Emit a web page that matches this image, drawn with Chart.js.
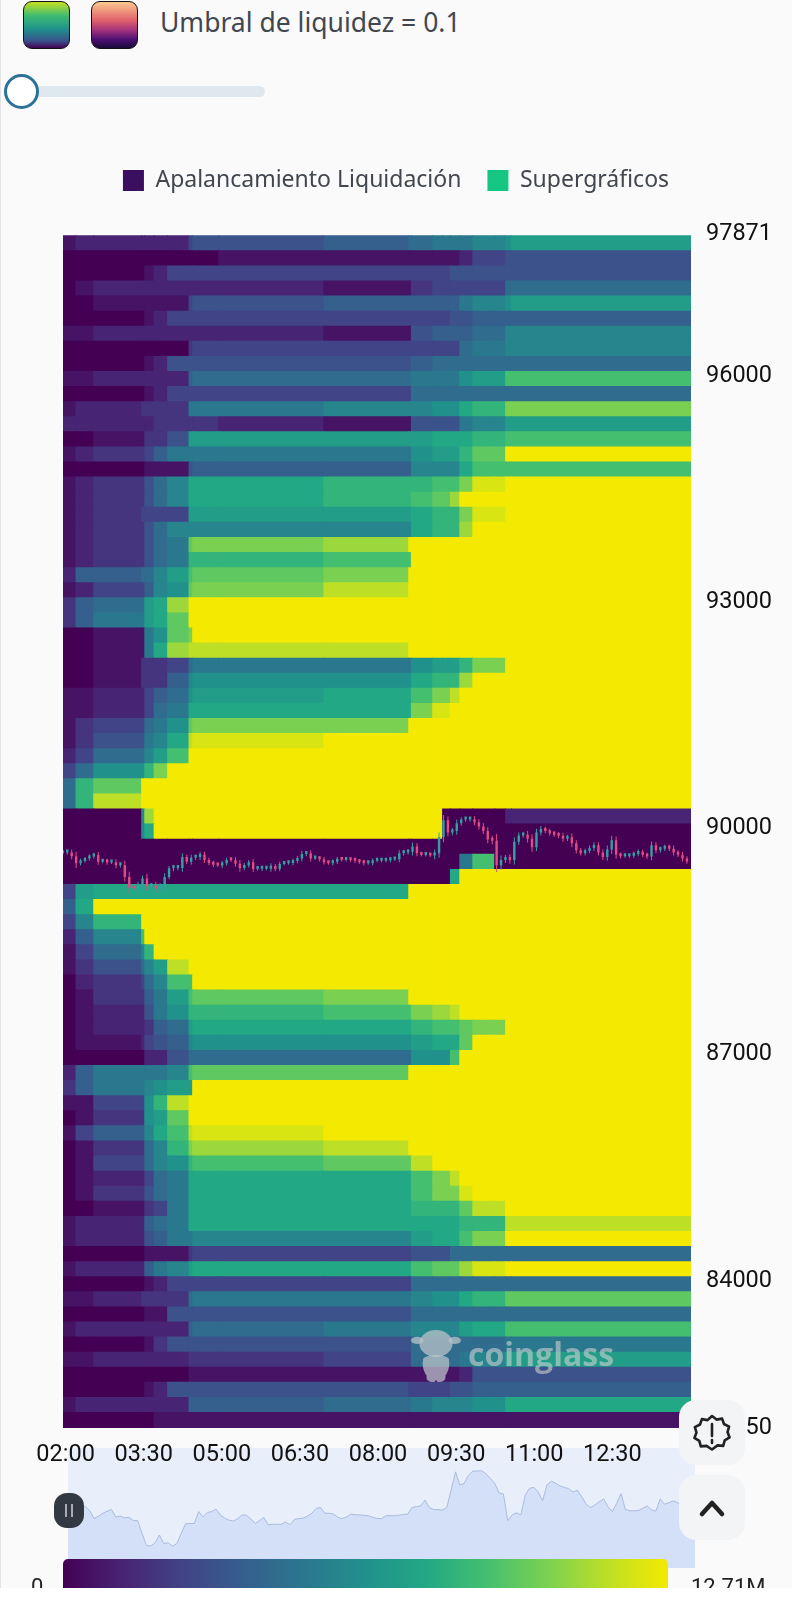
<!DOCTYPE html>
<html lang="es">
<head>
<meta charset="utf-8">
<title>Apalancamiento Liquidación</title>
<script src="https://cdn.jsdelivr.net/npm/chart.js@4"></script>
<style>
    html, body { margin: 0; padding: 0; background: #fff; }
    #page { position: relative; width: 792px; height: 1588px; overflow: hidden; background: #fafafa; border-left: 1px solid #e4e4e4; box-sizing: border-box; }
    #page > * { position: absolute; }
    .swatch { top: 1px; width: 45px; height: 46px; border: 1.5px solid #111; border-radius: 9px; }
    #swatch-viridis { left: 22px; background: linear-gradient(#c6e021, #3dbc74 30%, #1f8f8c 60%, #3b4f8b 85%, #440154); }
    #swatch-magma { left: 90px; background: linear-gradient(#fbc98f, #e0606a 40%, #a0307e 62%, #4a1070 82%, #1a0a3a); }
    #threshold { left: 159px; top: 4px; font: 26.5px "Noto Sans", sans-serif; color: #42474f; white-space: nowrap; }
    #slider-track { left: 19px; top: 86px; width: 245px; height: 11px; border-radius: 6px; background: #dfe8ef; }
    #slider-knob { left: 3px; top: 74px; width: 29px; height: 29px; border: 3px solid #2c7198; border-radius: 50%; background: #fff; }
    #nav-bg { left: 67px; top: 1448px; width: 627px; height: 120px; background: #e9eefb; }
    #nav-chart { left: 67px; top: 1448px; }
    #main-chart { left: -1px; top: 0; }
    #watermark { left: 467px: top: 1332px; left: 467px; top: 1332px; font: bold 32px "Open Sans", sans-serif; color: rgba(200, 206, 208, 0.62); }
    #mascot { left: 410px; top: 1329px; }
    .handle { width: 30px; height: 35px; border-radius: 13px; background: #333943; }
    #handle-left { left: 53px; top: 1493px; }
    #handle-left::before { content: ""; position: absolute; left: 11px; top: 11px; width: 2px; height: 13px; background: #aab; box-shadow: 6px 0 0 #aab; }
    #colorbar { left: 62px; top: 1559px; width: 605px; height: 40px; border-radius: 5px 5px 0 0;
        background: linear-gradient(90deg, #440154, #482475 10%, #414487 20%, #355f8d 30%, #2a788e 40%, #21918c 50%, #22a884 60%, #44bf70 70%, #7ad151 80%, #bddf26 90%, #f4e900); }
    .bar-label { top: 1574px; font: 22px Roboto, sans-serif; color: #222; }
    .fab { left: 678px; width: 66px; height: 65px; border-radius: 17px; background: #f2f4f6; display: flex; align-items: center; justify-content: center; }
</style>
</head>
<body>
<div id="page">
    <div class="swatch" id="swatch-viridis"></div>
    <div class="swatch" id="swatch-magma"></div>
    <div id="threshold">Umbral de liquidez = 0.1</div>
    <div id="slider-track"></div>
    <div id="slider-knob"></div>

    <div id="nav-bg"></div>
    <canvas id="nav-chart" width="627" height="120"></canvas>
    <canvas id="main-chart" width="792" height="1478"></canvas>

    <svg id="mascot" width="50" height="54" viewBox="0 0 48 52">
        <g fill="rgba(190,198,202,0.72)">
            <ellipse cx="24" cy="14" rx="16" ry="13"/>
            <ellipse cx="6" cy="11" rx="6" ry="3.500"/>
            <ellipse cx="42" cy="11" rx="6" ry="3.500"/>
            <path d="M12 28c6-4 18-4 24 0 2 6 0 13-3 17 1 4-2 6-6 6-2 0-2-1-3-2-1 1-1 2-3 2-4 0-7-2-6-6-3-4-5-11-3-17z"/>
        </g>
    </svg>
    <div id="watermark">coinglass</div>

    <div class="handle" id="handle-left"></div>
    <div id="colorbar"></div>
    <div class="bar-label" style="left: 30px">0</div>
    <div class="bar-label" style="left: 690px">12.71M</div>

    <div class="fab" style="top: 1400px">
        <svg width="40" height="40" viewBox="0 0 40 40" fill="none" stroke="#222" stroke-width="2.6" stroke-linejoin="round">
            <path d="M20 3l4.5 3.6 5.6-1 1.9 5.4 5.1 2.6-1.6 5.5 2.1 5.3-4.9 3-1.5 5.5-5.7-.5L20 36.500l-5.500-3.600-5.700.500-1.500-5.500-4.900-3 2.100-5.300-1.600-5.500 5.100-2.600 1.900-5.400 5.600 1z"/>
            <path d="M20 11v12M20 27v3" stroke-linecap="round"/>
        </svg>
    </div>
    <div class="fab" style="top: 1475px">
        <svg width="36" height="36" viewBox="0 0 36 36" fill="none" stroke="#222" stroke-width="4.5" stroke-linecap="round" stroke-linejoin="round">
            <path d="M8 24L18 13l10 11"/>
        </svg>
    </div>
</div>

<script>
// Etiquetas y ejes
const timeTicks = [2, 3.5, 5, 6.5, 8, 9.5, 11, 12.5];
const timeLabels = ['02:00', '03:30', '05:00', '06:30', '08:00', '09:30', '11:00', '12:30'];
const priceTicks = [97871, 96000, 93000, 90000, 87000, 84000, 82050];
const legendLabels = ['Apalancamiento Liquidación', 'Supergráficos'];
const legendColors = ['#3b0f5f', '#16c784'];

// Bordes de las columnas del mapa de calor, en horas
const columnEdges = [1.95, 2.20, 2.54, 3.46, 3.52, 3.70, 3.96, 4.37, 4.44, 4.94, 6.96, 8.59, 8.64, 9.05, 9.24, 9.39, 9.57, 9.82, 10.24, 10.45, 10.56, 14.01];

// Centro de cada fila de precios
const rowPrices = [
    97751, 97551, 97351, 97151, 96951, 96751, 96551, 96351, 96151, 95951,
    95751, 95551, 95351, 95151, 94951, 94751, 94551, 94351, 94151, 93951,
    93751, 93551, 93351, 93151, 92951, 92751, 92551, 92351, 92151, 91951,
    91751, 91551, 91351, 91151, 90951, 90751, 90551, 90351, 90151, 89951,
    89751, 89551, 89351, 89151, 88951, 88751, 88551, 88351, 88151, 87951,
    87751, 87551, 87351, 87151, 86951, 86751, 86551, 86351, 86151, 85951,
    85751, 85551, 85351, 85151, 84951, 84751, 84551, 84351, 84151, 83951,
    83751, 83551, 83351, 83151, 82951, 82751, 82551, 82351, 82151
];

// Liquidez por fila y columna, de 0 a 20 (20 = 12.71M). Las celdas omitidas al final de una fila valen 20.
const rowLevels = [
    [1,2,2,2,2,2,2,4,5,5,6,7,7,8,8,8,8,9,9,10,11],
    [0,0,0,0,0,0,0,0,0,1,1,1,1,1,1,1,2,4,4,5,5],
    [0,0,0,0,1,2,4,4,4,4,4,4,4,4,4,5,5,5,5,5,5],
    [0,1,2,2,2,2,2,2,2,2,1,1,3,4,4,4,4,4,4,7,7],
    [0,0,1,1,1,1,1,4,5,5,6,6,6,6,6,6,8,9,9,10,11],
    [0,0,0,0,1,2,4,4,4,4,4,4,4,4,4,5,5,6,6,6,6],
    [1,1,2,2,2,2,2,2,2,2,1,1,5,6,6,6,6,7,7,9,9],
    [0,0,0,0,0,0,0,3,4,4,4,4,4,4,4,4,7,8,8,9,9],
    [0,0,0,0,1,2,5,5,5,5,5,5,6,7,7,7,7,7,7,7,7],
    [1,1,2,2,2,2,2,6,7,7,7,7,8,8,8,8,10,11,11,14,14],
    [0,0,0,0,1,2,4,4,4,4,4,4,7,7,7,7,7,7,7,7,7],
    [1,2,2,3,3,3,3,8,8,8,9,9,9,10,10,10,12,13,13,16,16],
    [2,2,2,2,2,3,3,3,3,2,1,1,5,5,5,5,8,9,9,11,11],
    [0,0,1,1,3,3,5,11,11,11,11,11,11,12,12,12,12,13,13,14,14],
    [1,2,3,3,4,6,8,8,8,8,8,8,10,11,11,11,13,15,15,20,20],
    [0,0,0,0,1,1,1,5,6,6,6,6,9,9,9,9,12,14,14,14,14],
    [1,2,3,3,5,7,9,12,12,12,13,13,13,14,14,14,16,19,19,20,20],
    [1,2,3,3,5,7,9,12,12,12,13,13,14,15,15,17],
    [1,2,3,4,4,4,4,11,11,11,11,11,12,13,13,13,16,19,19],
    [1,2,3,3,5,7,9,9,9,9,9,9,12,13,13,13,17],
    [1,2,3,3,5,7,8,15,16,16,17],
    [1,2,3,3,5,7,8,13,13,13,14,14],
    [2,6,6,7,7,9,11,14,15,15,16],
    [1,2,4,4,6,9,10,15,16,16,18],
    [3,6,7,7,11,12,17],
    [3,6,8,8,11,12,15],
    [0,0,1,1,8,10,15,16],
    [0,0,1,1,8,12,17,18,18,18,18],
    [0,0,1,3,3,3,4,7,8,8,8,8,10,11,11,11,13,16,16],
    [0,0,1,3,3,3,6,9,10,10,10,10,12,13,13,13,17],
    [1,1,2,2,4,6,7,10,11,11,12,12,14,16,16,18],
    [1,1,2,2,4,7,8,12,12,12,12,12,16,19,19],
    [1,3,4,4,7,8,10,15,16,16,16],
    [1,3,5,5,8,9,12,18,19,19],
    [2,4,7,7,9,11,14],
    [4,7,10,10,13,16],
    [7,13,15],
    [7,13,18],
    [0,0,0,9,17,20,20,20,20,20,20,20,20,20,0,0,0,0,0,2,2],
    [0,0,0,9,12,20,20,20,20,20,20,20,20,20,0,0,0,0,0,0,0],
    [0,0,0,0,0,0,0,0,0,0,0,0,0,0,0,0,0,0,0,0,0],
    [0,0,0,0,0,0,0,0,0,0,0,0,0,0,0,0,8,14,0,0,0],
    [0,0,0,0,0,0,0,0,0,0,0,0,0,0,0,12],
    [4,11,12,12,12,12,12,12,12,12,12],
    [6,12],
    [4,9,13],
    [2,6,9,14],
    [1,4,7,9,13],
    [1,3,5,7,9,11,18],
    [0,2,3,4,7,9,14,14],
    [0,1,3,3,6,8,11,14,15,15,16],
    [0,1,2,2,5,8,10,13,13,13,14,14,16,17,17,18],
    [0,1,2,2,3,6,7,11,12,12,12,12,13,14,14,14,15,16,16],
    [0,1,1,2,4,5,6,9,10,10,10,10,11,12,12,12,15],
    [0,0,0,0,2,2,5,7,7,7,7,7,10,10,10,14],
    [2,6,8,8,8,8,9,14,15,15,15],
    [3,6,8,8,9,10,11,11],
    [1,1,4,4,10,13,18],
    [0,1,3,3,10,11,15],
    [1,4,6,6,9,12,14,18,19,19],
    [0,1,3,3,7,9,13,16,17,17,18],
    [0,1,4,4,7,9,10,13,14,14,15,15,18],
    [0,1,2,2,4,7,8,12,12,12,12,12,14,16,16,18],
    [0,1,3,3,5,7,8,12,12,12,12,12,14,16,16,16,19],
    [0,0,1,1,3,4,8,12,12,12,12,12,13,13,13,13,15,18,18],
    [1,2,2,2,6,7,8,12,12,12,12,12,12,12,12,12,13,13,13,18,18],
    [1,2,2,2,5,6,8,8,9,9,9,9,11,12,12,12,14,16,16],
    [0,0,0,0,1,1,1,3,4,4,4,4,5,5,5,7,7,7,7,7,7],
    [1,2,2,2,6,8,9,11,12,12,12,12,14,15,15,15,17,19,19],
    [0,0,0,0,1,2,4,4,4,4,4,4,7,7,7,7,7,7,7,7,7],
    [1,1,2,3,3,3,3,7,8,8,8,8,9,10,10,10,12,13,13,15,15],
    [0,0,0,0,1,1,5,5,5,5,5,5,7,7,7,7,7,7,7,7,7],
    [1,2,2,2,2,2,2,6,7,7,8,8,9,9,9,9,11,12,12,14,14],
    [0,0,0,0,1,3,5,5,5,5,5,5,7,7,7,7,7,7,7,8,8],
    [1,1,2,2,2,2,2,3,3,3,4,4,7,7,7,7,8,9,9,11,11],
    [0,0,0,0,0,0,0,1,1,1,1,1,1,1,1,1,2,5,5,5,5],
    [0,0,0,0,1,2,5,5,5,5,5,4,4,4,4,5,5,6,6,6,6],
    [1,2,2,2,2,2,2,6,6,6,7,7,8,9,9,9,9,10,10,12,12],
    [0,0,0,0,0,1,1,1,1,1,1,1,1,1,1,1,1,1,1,1,1]
];

// Precio de cierre de cada vela de 5 minutos
const closes = [
    89680, 89690, 89670, 89680, 89680, 89630, 89535, 89565, 89600, 89625,
    89645, 89555, 89565, 89545, 89550, 89510, 89510, 89355, 89210, 89200,
    89240, 89335, 89230, 89240, 89200, 89230, 89355, 89470, 89475, 89475,
    89620, 89555, 89610, 89620, 89650, 89580, 89540, 89515, 89505, 89535,
    89580, 89575, 89530, 89475, 89510, 89550, 89460, 89465, 89465, 89465,
    89495, 89460, 89525, 89535, 89540, 89565, 89600, 89660, 89670, 89600,
    89600, 89590, 89550, 89535, 89555, 89590, 89580, 89580, 89575, 89570,
    89550, 89535, 89535, 89570, 89570, 89570, 89575, 89585, 89590, 89670,
    89680, 89690, 89760, 89670, 89645, 89645, 89640, 89670, 89885, 90105,
    89945, 89965, 90065, 90115, 90115, 90119, 90080, 90025, 89965, 89850,
    89835, 89510, 89580, 89605, 89580, 89820, 89905, 89915, 89860, 89750,
    89945, 89990, 89965, 89935, 89915, 89900, 89860, 89880, 89800, 89710,
    89670, 89700, 89740, 89775, 89680, 89620, 89720, 89840, 89650, 89630,
    89630, 89635, 89660, 89690, 89645, 89625, 89775, 89710, 89730, 89750,
    89730, 89680, 89650, 89600, 89560
];

// Longitud de la mecha de cada vela, en dólares
const wickSpans = [
    20, 20, 30, 20, 30, 40, 60, 30, 20, 30,
    30, 40, 20, 30, 20, 40, 30, 60, 70, 40,
    50, 40, 60, 30, 50, 40, 50, 30, 40, 30,
    50, 30, 40, 30, 40, 40, 30, 30, 20, 30,
    30, 20, 40, 50, 30, 30, 40, 20, 30, 20,
    40, 30, 30, 20, 20, 30, 30, 40, 30, 40,
    20, 30, 30, 20, 30, 30, 20, 20, 20, 30,
    20, 30, 20, 30, 20, 20, 20, 30, 20, 40,
    30, 30, 50, 40, 20, 20, 20, 50, 60, 70,
    50, 40, 50, 30, 30, 30, 40, 40, 40, 50,
    50, 90, 60, 40, 50, 60, 40, 30, 50, 60,
    50, 40, 30, 30, 30, 30, 40, 30, 50, 40,
    30, 30, 30, 40, 40, 40, 50, 60, 50, 30,
    20, 20, 30, 30, 30, 30, 50, 40, 30, 30,
    30, 40, 30, 40, 30
];

// Paleta tipo viridis, una parada cada dos niveles
const paletteStops = ['#440154', '#482475', '#414487', '#355f8d', '#2a788e', '#21918c', '#22a884', '#44bf70', '#7ad151', '#bddf26', '#f4e900'];
const maxLevel = 20;
const upColor = '#35a0a2';
const downColor = '#df4d84';
const firstCandleHour = 1.692;
const candleStepHours = 0.085;

function levelColor(level) {
    const pos = level / 2;
    const i = Math.min(Math.floor(pos), paletteStops.length - 2);
    const t = pos - i;
    const a = paletteStops[i], b = paletteStops[i + 1];
    const mix = k => {
        const from = parseInt(a.substr(k, 2), 16);
        const to = parseInt(b.substr(k, 2), 16);
        return Math.round(from + (to - from) * t);
    };
    return `rgb(${mix(1)},${mix(3)},${mix(5)})`;
}

function hourOfCandle(i) {
    return firstCandleHour + i * candleStepHours;
}

// Construccion de las barras del mapa de calor
const heatBars = [];
const heatColors = [];
rowPrices.forEach((price, r) => {
    for (let c = 0; c < columnEdges.length - 1; c++) {
        const level = rowLevels[r][c] ?? maxLevel;
        heatBars.push({ x: [columnEdges[c], columnEdges[c + 1]], y: price });
        heatColors.push(levelColor(level));
    }
});

// Velas: cuerpo y mecha
const candleBodies = [], candleWicks = [], candleColors = [];
closes.forEach((close, i) => {
    const open = i === 0 ? close : closes[i - 1];
    const t = hourOfCandle(i);
    candleBodies.push({ x: t, y: [open, close] });
    candleWicks.push({ x: t, y: [Math.min(open, close) - wickSpans[i], Math.max(open, close) + wickSpans[i]] });
    candleColors.push(close >= open ? upColor : downColor);
});

const fixedLegendHeight = 91.5;

new Chart(document.getElementById('main-chart'), {
    type: 'bar',
    data: {
        datasets: [
            {
                label: legendLabels[0],
                indexAxis: 'y',
                data: heatBars,
                backgroundColor: heatColors,
                barThickness: 15.7,
                barPercentage: 1,
                categoryPercentage: 1,
                grouped: false,
                inflateAmount: 0.5,
                order: 3
            },
            {
                label: 'mechas',
                indexAxis: 'x',
                data: candleWicks,
                backgroundColor: candleColors,
                barThickness: 1,
                barPercentage: 1,
                grouped: false,
                inflateAmount: 0,
                order: 2
            },
            {
                label: legendLabels[1],
                indexAxis: 'x',
                data: candleBodies,
                backgroundColor: candleColors,
                barThickness: 2.4,
                barPercentage: 1,
                minBarLength: 3,
                grouped: false,
                inflateAmount: 0,
                order: 1
            }
        ]
    },
    options: {
        responsive: false,
        animation: false,
        layout: { padding: { left: 63, top: 143, right: 0, bottom: 0 } },
        plugins: {
            tooltip: { enabled: false },
            legend: {
                position: 'top',
                labels: {
                    boxWidth: 21,
                    boxHeight: 21,
                    padding: 26,
                    color: '#42474f',
                    font: { family: '"Noto Sans", sans-serif', size: 23 },
                    generateLabels: () => legendLabels.map((text, i) => ({
                        text: text,
                        fillStyle: legendColors[i],
                        strokeStyle: legendColors[i],
                        lineWidth: 0,
                        fontColor: '#42474f',
                        hidden: false
                    }))
                }
            }
        },
        scales: {
            x: {
                type: 'linear',
                min: columnEdges[0],
                max: columnEdges[columnEdges.length - 1],
                offset: false,
                grid: { display: false, offset: false, drawTicks: false },
                border: { display: false },
                afterBuildTicks: axis => { axis.ticks = timeTicks.map(v => ({ value: v })); },
                afterFit: axis => { axis.height = 50; },
                ticks: {
                    autoSkip: false,
                    maxRotation: 0,
                    padding: 13,
                    color: '#111',
                    font: { family: 'Roboto, sans-serif', size: 23.5 },
                    callback: value => timeLabels[timeTicks.indexOf(value)]
                }
            },
            y: {
                type: 'linear',
                position: 'right',
                min: 82050,
                max: 97871,
                offset: false,
                beginAtZero: false,
                grid: { display: false, offset: false, drawTicks: false },
                border: { display: false },
                afterBuildTicks: axis => { axis.ticks = priceTicks.map(v => ({ value: v })); },
                afterFit: axis => { axis.width = 101; },
                ticks: {
                    autoSkip: false,
                    padding: 15,
                    color: '#111',
                    font: { family: 'Roboto, sans-serif', size: 23.5 },
                    callback: value => String(value)
                }
            }
        }
    },
    plugins: [{
        id: 'legendPlacement',
        beforeInit(chart) {
            const fit = chart.legend.fit;
            chart.legend.fit = function () {
                fit.call(this);
                this.height = fixedLegendHeight;
            };
        },
        // la leyenda se centra en todo el lienzo, no en la caja con padding
        afterLayout(chart) {
            chart.legend.left = 0;
            chart.legend.right = chart.width;
        }
    }]
});

// Navegador inferior con el precio de cierre
new Chart(document.getElementById('nav-chart'), {
    type: 'line',
    data: {
        labels: closes.map((c, i) => i),
        datasets: [{
            data: closes,
            borderColor: '#a9bcdc',
            borderWidth: 1,
            backgroundColor: '#d4dff8',
            fill: 'start',
            pointRadius: 0,
            tension: 0
        }]
    },
    options: {
        responsive: false,
        animation: false,
        plugins: { legend: { display: false }, tooltip: { enabled: false } },
        scales: {
            x: { display: false, offset: false },
            y: { display: false, min: 88932, max: 90396 }
        }
    }
});
</script>
</body>
</html>
